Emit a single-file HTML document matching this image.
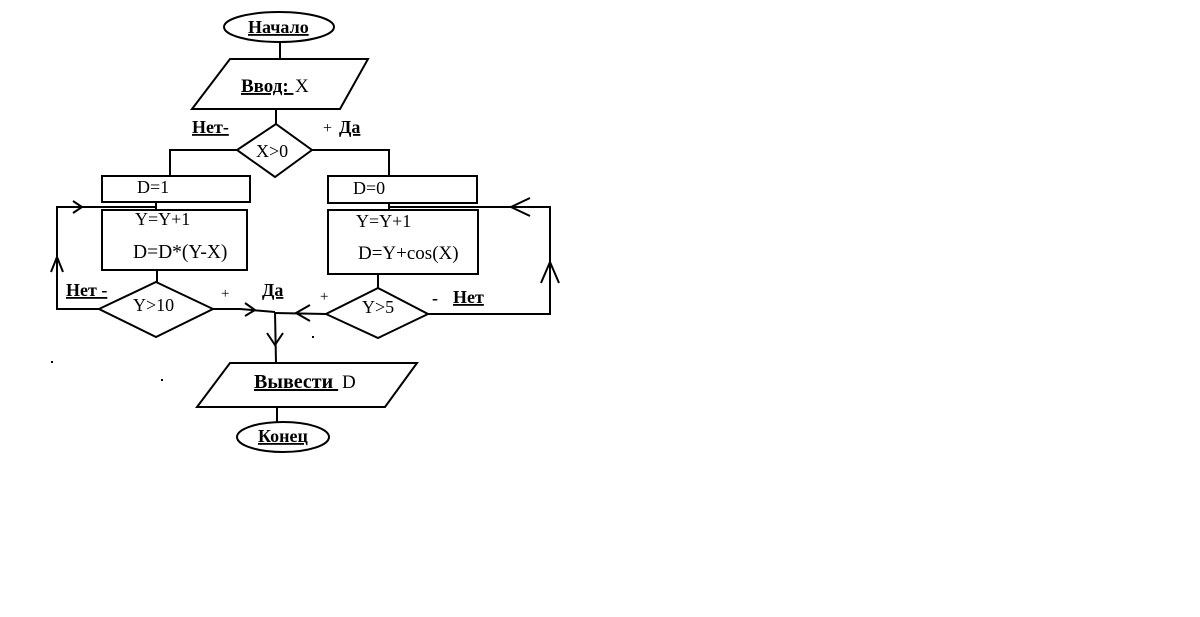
<!DOCTYPE html>
<html>
<head>
<meta charset="utf-8">
<style>
html,body{margin:0;padding:0;background:#fff;}
body{width:1200px;height:617px;overflow:hidden;}
svg{display:block;}
text{font-family:"Liberation Serif","DejaVu Serif",serif;fill:#000;white-space:pre;}
.b{font-weight:bold;}
.u{text-decoration:underline;}
</style>
</head>
<body>
<svg width="1200" height="617" viewBox="0 0 1200 617" xmlns="http://www.w3.org/2000/svg">
<rect x="0" y="0" width="1200" height="617" fill="#fff"/>
<g fill="none" stroke="#000" stroke-width="2">
  <ellipse cx="279" cy="27" rx="55" ry="15"/>
  <line x1="280" y1="42" x2="280" y2="59"/>
  <polygon points="230,59 368,59 340,109 192,109"/>
  <line x1="276" y1="109" x2="276" y2="124"/>
  <polygon points="276,124 312,150 275,177 237,150"/>
  <polyline points="237,150 170,150 170,176"/>
  <polyline points="312,150 389,150 389,176"/>
  <rect x="102" y="176" width="148" height="26"/>
  <line x1="156" y1="202" x2="156" y2="210"/>
  <rect x="102" y="210" width="145" height="60"/>
  <line x1="157" y1="270" x2="157" y2="282"/>
  <polygon points="156,282 213,309 156,337 99,309"/>
  <polyline points="99,309 57,309 57,207 156,207"/>
  <polyline points="73,201 82,207 73,213"/>
  <polyline points="51,272 57,257 63,272"/>
  <rect x="328" y="176" width="149" height="27"/>
  <line x1="389" y1="203" x2="389" y2="210"/>
  <rect x="328" y="210" width="150" height="64"/>
  <line x1="378" y1="274" x2="378" y2="288"/>
  <polygon points="378,288 428,314 378,338 326,314"/>
  <polyline points="428,314 550,314 550,207 389,207"/>
  <polyline points="530,198 511,207 530,216"/>
  <polyline points="541,283 550,262 559,283"/>
  <polyline points="213,309 240,309 275,312"/>
  <polyline points="245,303 255,310 245,316"/>
  <line x1="275" y1="313" x2="326" y2="314"/>
  <polyline points="310,305 296,313 310,321"/>
  <line x1="275" y1="312" x2="276" y2="363"/>
  <polyline points="267,333 275,345 283,333"/>
  <polygon points="230,363 417,363 385,407 197,407"/>
  <line x1="277" y1="407" x2="277" y2="423"/>
  <ellipse cx="283" cy="437" rx="46" ry="15"/>
</g>
<g fill="#000">
  <rect x="51" y="361" width="2" height="2"/>
  <rect x="161" y="379" width="2" height="2"/>
  <rect x="312" y="336" width="2" height="2"/>
</g>
<text x="248" y="33" font-size="18" class="b u">Начало</text>
<text x="241" y="92" font-size="19" class="b u">Ввод: </text>
<text x="295" y="92" font-size="19">X</text>
<text x="192" y="133" font-size="18" class="b u">Нет-</text>
<text x="323" y="133" font-size="16">+</text>
<text x="339" y="133" font-size="18" class="b u">Да</text>
<text x="256" y="157" font-size="18">X&gt;0</text>
<text x="137" y="193" font-size="18">D=1</text>
<text x="353" y="194" font-size="18">D=0</text>
<text x="135" y="225" font-size="18">Y=Y+1</text>
<text x="133" y="258" font-size="19.5">D=D*(Y-X)</text>
<text x="356" y="227" font-size="18">Y=Y+1</text>
<text x="358" y="259" font-size="19">D=Y+cos(X)</text>
<text x="133" y="311" font-size="18">Y&gt;10</text>
<text x="362" y="313" font-size="18">Y&gt;5</text>
<text x="66" y="296" font-size="18" class="b u">Нет -</text>
<text x="221" y="298" font-size="15">+</text>
<text x="262" y="296" font-size="18" class="b u">Да</text>
<text x="320" y="301" font-size="15">+</text>
<text x="432" y="304" font-size="18" class="b">-</text>
<text x="453" y="303" font-size="18" class="b u">Нет</text>
<text x="254" y="388" font-size="20" class="b u">Вывести </text>
<text x="342" y="388" font-size="19">D</text>
<text x="258" y="442" font-size="18" class="b u">Конец</text>
</svg>
</body>
</html>
